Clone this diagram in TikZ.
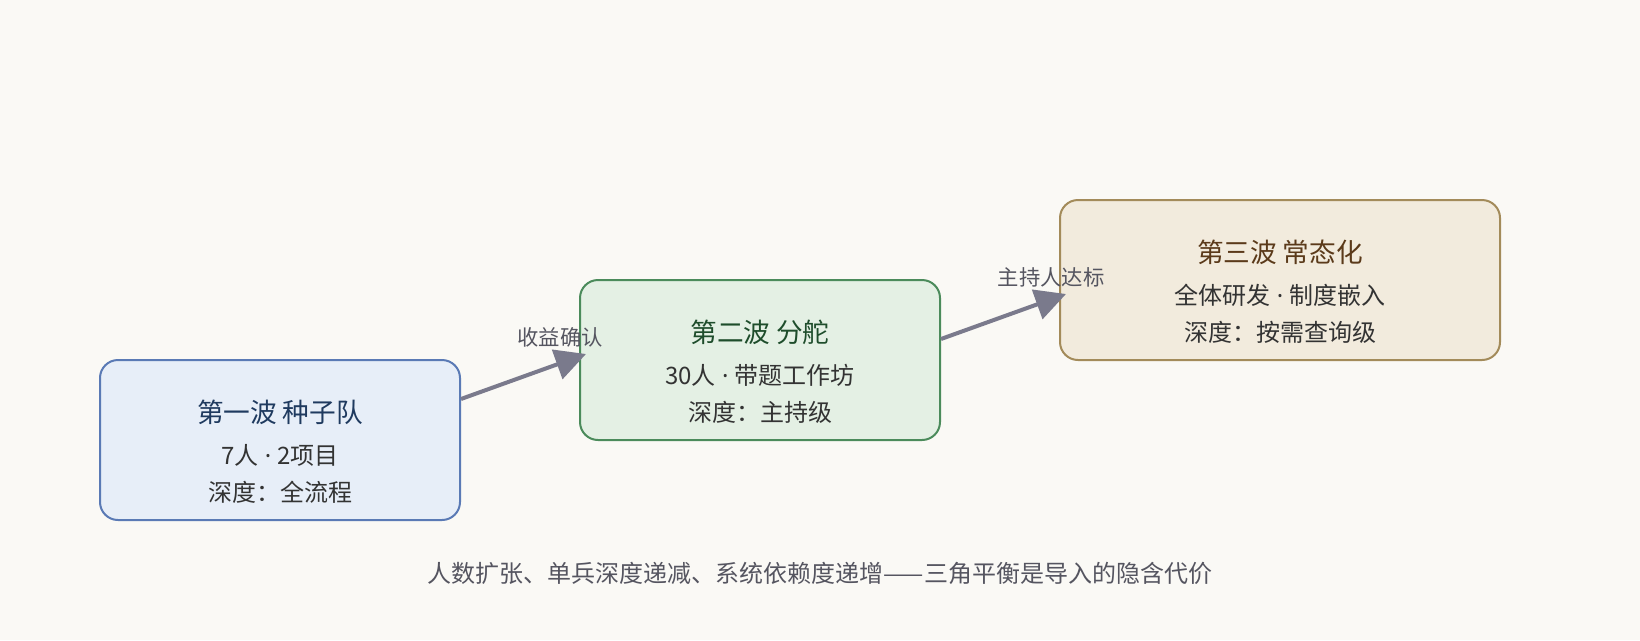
\documentclass[tikz,border=0pt]{standalone}
\usepackage{fontspec}
\setmainfont{Noto Sans CJK SC}
\newfontfamily\latinfont{Noto Sans}
\usetikzlibrary{arrows.meta}
\definecolor{bgc}{HTML}{FAF9F5}
\definecolor{fillA}{HTML}{E7EEF8}
\definecolor{strokeA}{HTML}{5A7AB5}
\definecolor{titleA}{HTML}{1F3A5F}
\definecolor{fillB}{HTML}{E4F0E4}
\definecolor{strokeB}{HTML}{4B8B5B}
\definecolor{titleB}{HTML}{1E4D2B}
\definecolor{fillC}{HTML}{F2EBDD}
\definecolor{strokeC}{HTML}{A38B5A}
\definecolor{titleC}{HTML}{5B3A1A}
\definecolor{arrowc}{HTML}{7A7A8C}
\definecolor{bodyc}{HTML}{333333}
\definecolor{labelc}{HTML}{555560}
\newcommand{\middot}{{\latinfont{} · }}
\tikzset{
  wave/.style={draw, line width=1.5pt, rounded corners=13.5pt, minimum height=120pt, inner sep=0pt},
  ttl/.style={anchor=base, inner sep=0pt, font=\fontsize{20}{24}\selectfont},
  bodytxt/.style={anchor=base, inner sep=0pt, text=bodyc, font=\fontsize{18}{22}\selectfont},
  lbl/.style={anchor=base, inner sep=0pt, text=labelc, font=\fontsize{16}{19}\selectfont},
  capt/.style={anchor=base, inner sep=0pt, text=labelc, font=\fontsize{18}{22}\selectfont},
  conn/.style={draw=arrowc, line width=3pt, -{Triangle[length=23pt,width=23pt]}, fill=arrowc}
}
\begin{document}
\begin{tikzpicture}[x=0.75pt, y=-0.75pt]
\fill[bgc] (0,0) rectangle (1640,640);
\useasboundingbox (0,0) rectangle (1640,640);

\node[wave, fill=fillA, draw=strokeA, minimum width=270pt] (b1) at (280,440) {};
\node[wave, fill=fillB, draw=strokeB, minimum width=270pt] (b2) at (760,360) {};
\node[wave, fill=fillC, draw=strokeC, minimum width=330pt] (b3) at (1280,280) {};

\node[ttl, text=titleA] (t1) at (280,422) {第一波 种子队};
\node[bodytxt] (s1) at (280,464) {7人\middot 2项目};
\node[bodytxt] (d1) at (280,501) {深度：全流程};

\node[ttl, text=titleB] (t2) at (760,342) {第二波 分舵};
\node[bodytxt] (s2) at (760,384) {30人\middot 带题工作坊};
\node[bodytxt] (d2) at (760,421) {深度：主持级};

\node[ttl, text=titleC] (t3) at (1280,262) {第三波 常态化};
\node[bodytxt] (s3) at (1280,304) {全体研发\middot 制度嵌入};
\node[bodytxt] (d3) at (1280,341) {深度：按需查询级};

\draw[conn] ([yshift=30.75pt]b1.east) -- ([shift={(5.25pt,4.5pt)}]b2.west);
\draw[conn] ([yshift=15.75pt]b2.east) -- ([shift={(5.25pt,-10.5pt)}]b3.west);

\node[lbl] (l1) at (560,345) {收益确认};
\node[lbl] (l2) at (1051,285) {主持人达标};

\node[capt] (cap) at (820,582) {人数扩张、单兵深度递减、系统依赖度递增——三角平衡是导入的隐含代价};
\end{tikzpicture}
\end{document}
